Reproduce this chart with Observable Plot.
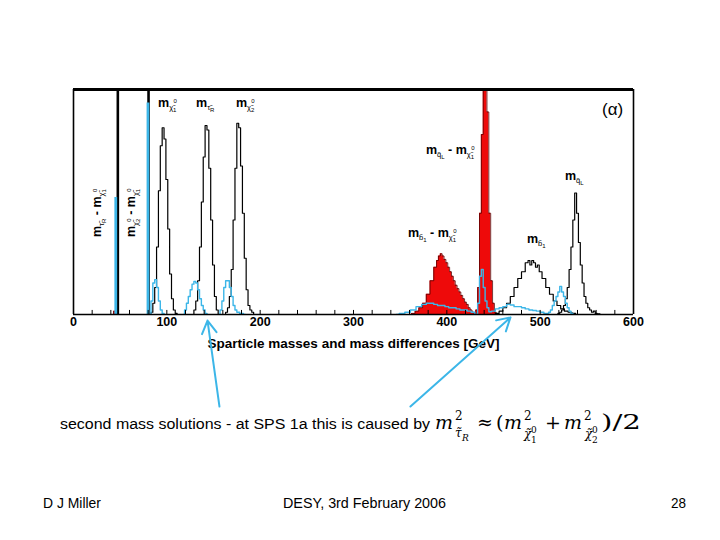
<!DOCTYPE html>
<html><head><meta charset="utf-8">
<script src="https://cdn.jsdelivr.net/npm/d3@7"></script>
<script src="https://cdn.jsdelivr.net/npm/@observablehq/plot@0.6"></script>
<style>html,body{margin:0;padding:0;background:#fff;} #chart{position:relative;width:720px;height:540px;}</style>
</head><body><div id="chart"></div>
<script>
// ---------- data (x in GeV, y as fraction of panel height) ----------
const xTickLabels = [0, 100, 200, 300, 400, 500, 600];
const minorTicks = d3.range(0, 601, 20);

// black histograms (true masses / differences)
const chi1Peak = [[82,0],[84,0.01],[86,0.05],[88,0.12],[90,0.3],[92,0.55],[94,0.75],[96,0.83],[98,0.78],[100,0.6],[102,0.38],[104,0.18],[106,0.07],[108,0.02],[110,0.005],[112,0]];
const tauRPeak = [[128,0],[130,0.02],[132,0.06],[134,0.15],[136,0.3],[138,0.5],[140,0.7],[142,0.84],[144,0.82],[146,0.65],[148,0.42],[150,0.22],[152,0.08],[154,0.02],[156,0]];
const chi2Peak = [[162,0],[164,0.01],[166,0.03],[168,0.08],[170,0.2],[172,0.42],[174,0.65],[176,0.85],[178,0.83],[180,0.66],[182,0.45],[184,0.25],[186,0.11],[188,0.04],[190,0.02],[192,0.01],[194,0]];
const sbotPeak = [[450,0],[454,0.005],[458,0.015],[462,0.03],[466,0.05],[470,0.08],[474,0.12],[478,0.16],[482,0.19],[486,0.23],[488,0.24],[490,0.22],[492,0.24],[494,0.23],[496,0.21],[498,0.22],[500,0.19],[504,0.16],[508,0.12],[512,0.09],[516,0.06],[520,0.04],[524,0.025],[528,0.015],[532,0.01],[536,0.005],[540,0]];
const squarkPeak = [[518,0],[520,0.005],[522,0.01],[524,0.02],[526,0.04],[528,0.07],[530,0.12],[532,0.2],[534,0.3],[536,0.42],[538,0.54],[540,0.45],[542,0.32],[544,0.22],[546,0.14],[548,0.08],[550,0.05],[552,0.03],[554,0.02],[556,0.01],[558,0.015],[560,0.005],[562,0.003],[566,0]];
const blackSpikes = [47.5, 80.4];

// light-blue histograms (second mass solutions)
const blueSpikes = [[45.3, 0.52], [79.8, 0.94]];
const blue1 = [[82,0],[84,0.06],[86,0.14],[88,0.155],[90,0.12],[92,0.06],[94,0.02],[96,0.005],[98,0]];
const blue2 = [[118,0],[120,0.02],[122,0.05],[124,0.08],[126,0.11],[128,0.135],[130,0.147],[132,0.14],[134,0.11],[136,0.07],[138,0.04],[140,0.02],[142,0.005],[144,0]];
const blue3 = [[156,0],[158,0.02],[160,0.06],[162,0.12],[164,0.15],[166,0.15],[168,0.12],[170,0.08],[172,0.04],[174,0.02],[176,0.01],[180,0.005],[184,0]];
const blue4 = [[346,0],[352,0.005],[358,0.01],[364,0.02],[370,0.035],[376,0.045],[380,0.05],[384,0.05],[388,0.045],[392,0.04],[396,0.04],[400,0.035],[404,0.03],[408,0.03],[412,0.025],[416,0.02],[420,0.02],[424,0.015],[428,0.01],[432,0]];
const blue5 = [[432,0],[434,0.05],[436,0.17],[438,0.2],[440,0.12],[442,0.06],[444,0.03],[446,0.012],[450,0.015],[454,0.025],[458,0.03],[462,0.035],[466,0.045],[470,0.042],[474,0.035],[478,0.035],[482,0.03],[486,0.025],[490,0.02],[494,0.018],[498,0.015],[502,0.01],[506,0.005],[510,0]];
const blue6 = [[508,0],[510,0.01],[512,0.02],[514,0.04],[516,0.06],[518,0.08],[520,0.1],[522,0.125],[524,0.1],[526,0.08],[528,0.05],[530,0.03],[532,0.015],[534,0.005],[536,0]];

// red filled histograms (mass differences)
const redSmall = [[42,0],[44,0.015],[46,0.015],[48,0]];
const redSbot = [[360,0],[364,0.005],[368,0.015],[372,0.03],[376,0.05],[380,0.09],[384,0.15],[388,0.21],[390,0.24],[392,0.26],[394,0.27],[396,0.26],[398,0.245],[400,0.23],[402,0.21],[404,0.19],[406,0.17],[408,0.15],[410,0.13],[412,0.115],[414,0.1],[416,0.085],[418,0.07],[420,0.055],[422,0.045],[424,0.03],[426,0.02],[428,0.01],[430,0.003],[432,0]];
const redSquark = [[430,0],[432,0.02],[434,0.12],[436,0.45],[438,0.8],[440,1.3],[442,1.5],[444,0.9],[446,0.45],[448,0.15],[450,0.05],[452,0.01],[454,0]];

// arrows from the note to the second solutions: [tail x, tail y, head x, head y]
const arrowsData = [[156.4, -0.409, 143.6, -0.027], [361, -0.409, 468.2, -0.013]];

const xLabel = "Sparticle masses and mass differences [GeV]";
const noteText = "second mass solutions - at SPS 1a this is caused by";
const footLeft = "D J Miller", footMid = "DESY, 3rd February 2006", footRight = "28";

// ---------- build tables ----------
const tag = (arr, id) => arr.map(([x, y]) => ({x, y, id}));
const blackData = [...tag(chi1Peak,"a"),...tag(tauRPeak,"b"),...tag(chi2Peak,"c"),...tag(sbotPeak,"d"),...tag(squarkPeak,"e")];
const blueData = [...tag(blue1,"a"),...tag(blue2,"b"),...tag(blue3,"c"),...tag(blue4,"d"),...tag(blue5,"e"),...tag(blue6,"f")];
const redData = [...tag(redSmall,"a"),...tag(redSbot,"b"),...tag(redSquark,"c")];
const arrows = arrowsData.map(([x1,y1,x2,y2]) => ({x1,y1,x2,y2}));

const BLUE = "#3cb6e8", RED = "#ee0a0a";

const plot = Plot.plot({
  width: 720, height: 540,
  marginLeft: 73, marginRight: 87, marginTop: 89, marginBottom: 226,
  x: {domain: [0, 600]},
  y: {domain: [0, 1], axis: null},
  style: {fontFamily: "'Liberation Sans', Arial, sans-serif", background: "white", overflow: "visible"},
  marks: [
    Plot.areaY(redData, {x: "x", y: "y", z: "id", curve: "step", fill: RED, clip: true}),
    Plot.line(redData, {x: "x", y: "y", z: "id", curve: "step", stroke: "#5a0000", strokeWidth: 0.8, clip: true}),
    Plot.line(blackData, {x: "x", y: "y", z: "id", curve: "step", stroke: "black", strokeWidth: 1.2, clip: true}),
    Plot.ruleX(blackSpikes, {y1: 0, y2: 1, stroke: "black", strokeWidth: 2.6, clip: true}),
    Plot.line(blueData, {x: "x", y: "y", z: "id", curve: "step", stroke: BLUE, strokeWidth: 1.4, clip: true}),
    Plot.ruleX(blueSpikes, {x: d => d[0], y1: 0, y2: d => d[1], stroke: BLUE, strokeWidth: 2.8, clip: true}),
    Plot.ruleX(minorTicks, {y1: 0, y2: 0.018, stroke: "black", strokeWidth: 1}),
    Plot.ruleY([0], {stroke: "black", strokeWidth: 1.6}),
    Plot.ruleY([1], {stroke: "black", strokeWidth: 3}),
    Plot.ruleX([0, 600], {stroke: "black", strokeWidth: 1.6}),
    Plot.axisX(xTickLabels, {tickSize: 0, tickPadding: 3, fontSize: 12.5, fontWeight: "bold", fill: "black", label: null}),
    Plot.text([xLabel], {frameAnchor: "bottom", dy: 33, lineAnchor: "bottom", fontSize: 13.5, fontWeight: "bold", fill: "black"}),
    Plot.arrow(arrows, {x1: "x1", y1: "y1", x2: "x2", y2: "y2", stroke: BLUE, strokeWidth: 2, headLength: 11})
  ]
});
document.getElementById("chart").appendChild(plot);

// ---------- annotations ----------
const sx = plot.scale("x").apply, sy = plot.scale("y").apply;
const svg = d3.select(plot).append("g").attr("text-anchor", "start").attr("fill", "black");
const sizes = {m: 12.5, s: 7.5, ss: 6, sup: 6, n: 12.5};
const offs = {m: 0, s: 3, ss: 5, sup: -4, n: 0};
function label(gx, gy, parts, rotate) {
  const g = svg.append("g").attr("transform", `translate(${gx},${gy})` + (rotate ? " rotate(-90)" : ""));
  const t = g.append("text").attr("font-weight", "bold").attr("fill", "black").attr("text-anchor", "start");
  let cur = 0;
  for (const [s, k, dx] of parts) {
    t.append("tspan").attr("dy", offs[k] - cur).attr("dx", dx || 0)
      .attr("font-size", sizes[k]).attr("font-weight", k === "m" || k === "n" ? "bold" : "normal").text(s);
    cur = offs[k];
  }
}
const chi = n => [["m","m"],["χ̃","s"],[n,"ss"],["0","sup",-3]];
label(sx(91.1), sy(0.92), chi("1"));
label(sx(131.8), sy(0.92), [["m","m"],["τ̃","s"],["R","ss"]]);
label(sx(174.6), sy(0.92), chi("2"));
label(sx(378.2), sy(0.711), [["m","m"],["q̃","s"],["L","ss"],[" - ","n"],...chi("1")]);
label(sx(527.1), sy(0.596), [["m","m"],["q̃","s"],["L","ss"]]);
label(sx(358.9), sy(0.342), [["m","m"],["b̃","s"],["1","ss"],[" - ","n"],...chi("1")]);
label(sx(486.4), sy(0.316), [["m","m"],["b̃","s"],["1","ss"]]);
label(sx(30), sy(0.342), [["m","m"],["τ̃","s"],["R","ss"],[" - ","n"],...chi("1")], true);
label(sx(66.4), sy(0.342), [["m","m"],...chi("2").slice(1),[" - ","n"],...chi("1")], true);
svg.append("text").attr("x", sx(566.8)).attr("y", sy(0.884)).attr("font-size", 17).text("(α)");

// note and formula
svg.append("text").attr("x", 60).attr("y", 429).attr("font-size", 15.5)
  .attr("textLength", 370).attr("lengthAdjust", "spacingAndGlyphs").text(noteText);
const F = svg.append("g").attr("font-family", "'DejaVu Serif', serif");
const ft = (x, y, s, size, italic) => F.append("text").attr("x", x).attr("y", y).attr("font-size", size)
  .attr("font-style", italic ? "italic" : "normal").text(s);
ft(435, 429, "m", 19, true); ft(455, 420, "2", 12); ft(455, 437, "τ̃", 12, true); ft(462, 441, "R", 9, true);
ft(477, 429, "≈", 19); ft(496, 429, "(", 19);
ft(504, 429, "m", 19, true); ft(524, 420, "2", 12); ft(524, 438, "χ̃", 12, true); ft(531, 433, "0", 9); ft(531, 443, "1", 9);
ft(545, 429, "+", 19);
ft(564, 429, "m", 19, true); ft(584, 420, "2", 12); ft(585, 438, "χ̃", 12, true); ft(592, 433, "0", 9); ft(592, 443, "2", 9);
F.append("text").attr("x", 601).attr("y", 429).attr("font-size", 20).attr("textLength", 40).attr("lengthAdjust", "spacingAndGlyphs").text(")/2");

// footer
const foot = (x, s, w) => svg.append("text").attr("x", x).attr("y", 508).attr("font-size", 14.5)
  .attr("textLength", w).attr("lengthAdjust", "spacingAndGlyphs").text(s);
foot(43, footLeft, 58); foot(283, footMid, 163); foot(671, footRight, 15);
</script></body></html>
